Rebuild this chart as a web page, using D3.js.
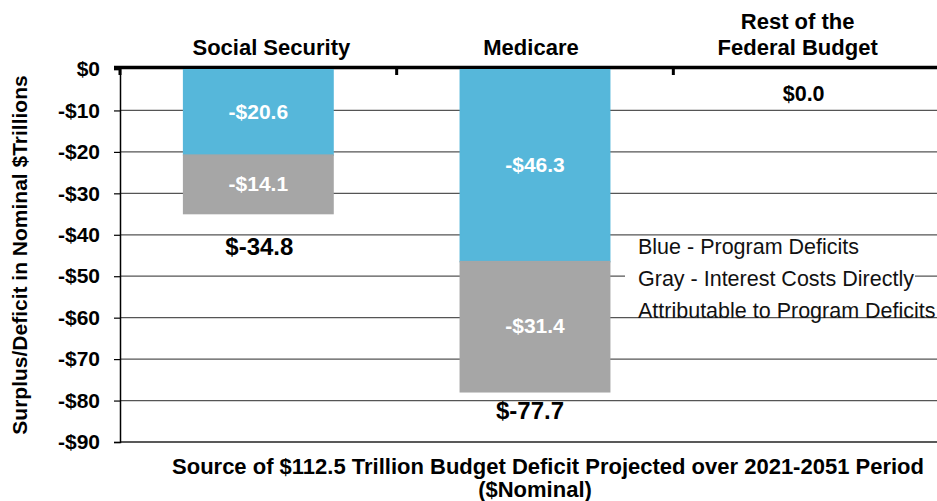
<!DOCTYPE html>
<html>
<head>
<meta charset="utf-8">
<script src="https://cdn.jsdelivr.net/npm/d3@7"></script>
<style>
	body { margin: 0; background: #fff; }
	svg { display: block; font-family: 'Liberation Sans', Arial, Helvetica, sans-serif; }
</style>
</head>
<body>
<div id="chart"></div>
<script>

const categories = ['Social Security', 'Medicare', 'Rest of the Federal Budget'];
const categoryLines = [['Social Security'], ['Medicare'], ['Rest of the', 'Federal Budget']];
const programDeficits = [-20.6, -46.3, 0.0];
const interestCosts = [-14.1, -31.4, 0.0];
const totalLabels = ['$-34.8', '$-77.7', '$0.0'];
const yTicks = [0, -10, -20, -30, -40, -50, -60, -70, -80, -90];
const legendLines = ['Blue - Program Deficits', 'Gray - Interest Costs Directly', 'Attributable to Program Deficits'];

class DeficitChart {

	constructor(options) {
		this.element = options.element;
		this.data = categories.map(function(c, i) {
			return { category: c, program: programDeficits[i], interest: interestCosts[i] };
		});
		this.draw();
	}

}

DeficitChart.prototype.draw = function() {
	this.width = 937;
	this.height = 501;
	this.blue = '#56b7da';
	this.gray = '#a6a6a6';

	this.createSVG();
	this.createScales();
	this.createGrid();
	this.createAxes();
	this.createBars();
	this.createLabels();
	this.createLegend();
}

DeficitChart.prototype.createSVG = function() {
	this.svg = d3.select(this.element)
		.append('svg')
			.attr('width', this.width)
			.attr('height', this.height);
}

DeficitChart.prototype.createScales = function() {
	this.xScale = d3.scaleBand()
		.domain(categories)
		.range([120, 950]);

	this.yScale = d3.scaleLinear()
		.domain([0, -90])
		.range([69, 442]);

	this.barWidth = this.xScale.bandwidth() * 0.54;
}

DeficitChart.prototype.createGrid = function() {
	let that = this;

	this.svg.append('g')
		.selectAll('line')
		.data(yTicks.filter(d => d !== 0))
		.enter().append('line')
			.attr('x1', 120)
			.attr('x2', this.width)
			.attr('y1', d => that.yScale(d))
			.attr('y2', d => that.yScale(d))
			.attr('stroke', d => d === -90 ? '#222' : '#555')
			.attr('stroke-width', d => d === -90 ? 1.5 : 1.2);
}

DeficitChart.prototype.createBars = function() {
	let that = this;

	let stack = d3.stack()
		.keys(['program', 'interest'])
		.offset(d3.stackOffsetDiverging);

	this.series = stack(this.data);

	this.svg.append('g')
		.selectAll('g')
		.data(this.series)
		.enter().append('g')
			.attr('fill', d => d.key === 'program' ? that.blue : that.gray)
			.attr('stroke', d => d.key === 'program' ? that.blue : that.gray)
		.selectAll('rect')
		.data(d => d.filter(s => s[0] !== s[1] || d.key === 'program'))
		.enter().append('rect')
			.attr('x', d => that.xScale(d.data.category) + (that.xScale.bandwidth() - that.barWidth) / 2)
			.attr('width', this.barWidth)
			.attr('y', d => that.yScale(Math.max(d[0], d[1])) + 0.75)
			.attr('height', d => Math.abs(that.yScale(d[0]) - that.yScale(d[1])))
			.attr('stroke-width', d => d[0] === d[1] ? 2.5 : 1.5);

	// segment values inside the bars
	this.series.forEach(function(s) {
		that.svg.append('g')
			.selectAll('text')
			.data(s.filter(d => d[0] !== d[1]))
			.enter().append('text')
				.attr('x', d => that.xScale(d.data.category) + that.xScale.bandwidth() / 2)
				.attr('y', d => that.yScale((d[0] + d[1]) / 2))
				.attr('dy', '0.35em')
				.attr('text-anchor', 'middle')
				.attr('fill', '#fff')
				.style('font-weight', 'bold')
				.style('font-size', '21px')
				.text(d => '-$' + Math.abs(d.data[s.key]).toFixed(1));
	});
}

DeficitChart.prototype.createAxes = function() {
	let that = this;

	this.yAxis = d3.axisLeft()
		.scale(this.yScale)
		.tickValues(yTicks)
		.tickSize(6)
		.tickPadding(14)
		.tickFormat(d => d === 0 ? '$0' : '-$' + Math.abs(d));

	let gy = this.svg.append('g')
		.attr('transform', 'translate(120, 0)')
		.call(this.yAxis);

	gy.select('.domain')
		.attr('stroke', '#000')
		.attr('stroke-width', 1.5);
	gy.selectAll('.tick line')
		.attr('stroke', '#000')
		.attr('stroke-width', 1.2);
	gy.selectAll('.tick text')
		.attr('fill', '#000')
		.style('font-family', "'Liberation Sans', Arial, sans-serif")
		.style('font-size', '21px')
		.style('font-weight', 'bold');

	// zero line, sitting just above the bars
	this.svg.append('line')
		.attr('x1', 114)
		.attr('x2', this.width)
		.attr('y1', this.yScale(0) - 1.5)
		.attr('y2', this.yScale(0) - 1.5)
		.attr('stroke', '#000')
		.attr('stroke-width', 3.5);

	// category boundary ticks on the zero line
	this.svg.append('g')
		.selectAll('line')
		.data(categories)
		.enter().append('line')
			.attr('x1', d => that.xScale(d))
			.attr('x2', d => that.xScale(d))
			.attr('y1', this.yScale(0))
			.attr('y2', this.yScale(0) + 6)
			.attr('stroke', '#000')
			.attr('stroke-width', 3);
}

DeficitChart.prototype.createLabels = function() {
	let that = this;
	let nudge = [13, -4, -14];
	let totalNudge = [1, -5, -8];
	let totalOffset = [34, 20, 24];

	// category names above the bars
	categoryLines.forEach(function(lines, i) {
		let cx = that.xScale(categories[i]) + that.xScale.bandwidth() / 2 + nudge[i];
		lines.forEach(function(line, j) {
			that.svg.append('text')
				.attr('x', cx)
				.attr('y', 55 - (lines.length - 1 - j) * 26)
				.attr('text-anchor', 'middle')
				.style('font-weight', 'bold')
				.style('font-size', '22px')
				.text(line);
		});
	});

	// totals under the bars
	this.svg.append('g')
		.selectAll('text')
		.data(this.data)
		.enter().append('text')
			.attr('x', (d, i) => that.xScale(d.category) + that.xScale.bandwidth() / 2 + totalNudge[i])
			.attr('y', (d, i) => that.yScale(d.program + d.interest) + totalOffset[i])
			.attr('dy', '0.35em')
			.attr('text-anchor', 'middle')
			.style('font-weight', 'bold')
			.style('font-size', (d, i) => i === 2 ? '21.5px' : '24px')
			.text((d, i) => totalLabels[i]);

	// y axis title
	this.svg.append('text')
		.attr('transform', 'translate(27, 255) rotate(-90)')
		.attr('text-anchor', 'middle')
		.style('font-weight', 'bold')
		.style('font-size', '21px')
		.text('Surplus/Deficit in Nominal $Trillions');

	// x axis title
	this.svg.append('text')
		.attr('x', 548)
		.attr('y', 474)
		.attr('text-anchor', 'middle')
		.style('font-weight', 'bold')
		.style('font-size', '22px')
		.text('Source of $112.5 Trillion Budget Deficit Projected over 2021-2051 Period');

	this.svg.append('text')
		.attr('x', 535)
		.attr('y', 497)
		.attr('text-anchor', 'middle')
		.style('font-weight', 'bold')
		.style('font-size', '22px')
		.text('($Nominal)');
}

DeficitChart.prototype.createLegend = function() {
	this.svg.append('rect')
		.attr('x', 625)
		.attr('y', 238)
		.attr('width', 290)
		.attr('height', 58)
		.attr('fill', '#fff');

	this.svg.append('g')
		.selectAll('text')
		.data(legendLines)
		.enter().append('text')
			.attr('x', 638)
			.attr('y', (d, i) => 254 + i * 32)
			.style('font-size', '21.5px')
			.attr('fill', '#111')
			.text(d => d);
}

new DeficitChart({ element: '#chart' });

</script>
</body>
</html>
